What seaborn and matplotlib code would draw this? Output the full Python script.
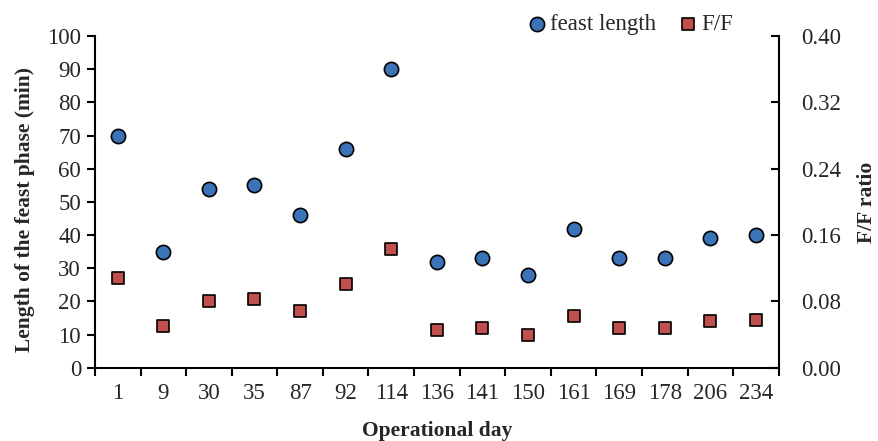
import numpy as np
import pandas as pd
import matplotlib
matplotlib.use('Agg')
import matplotlib.pyplot as plt
from matplotlib.ticker import FixedLocator, NullFormatter
import seaborn as sns

# data
days = ['1', '9', '30', '35', '87', '92', '114', '136', '141', '150',
        '161', '169', '178', '206', '234']
feast_length = [70, 35, 54, 55, 46, 66, 90, 32, 33, 28, 42, 33, 33, 39, 40]
ff_ratio = [0.108, 0.051, 0.081, 0.083, 0.068, 0.101, 0.143, 0.046, 0.0475,
            0.040, 0.062, 0.0475, 0.0475, 0.057, 0.058]

df = pd.DataFrame({'day': days, 'feast': feast_length, 'ff': ff_ratio})

sns.set_style('white')
plt.rcParams['font.family'] = ['Liberation Serif', 'DejaVu Serif']

blue = '#3A73B8'
red = '#C0504D'
tick_fs = 16.5
label_fs = 15.5

fig = plt.figure(figsize=(8.79, 4.41), dpi=100)
ax = fig.add_axes([0.108, 0.166, 0.778, 0.752])
ax2 = ax.twinx()

sns.scatterplot(data=df, x='day', y='feast', ax=ax, marker='o', s=105,
                color=blue, edgecolor='black', linewidth=1.2,
                label='feast length', legend=False, zorder=3)
sns.scatterplot(data=df, x='day', y='ff', ax=ax2, marker='s', s=85,
                color=red, edgecolor='black', linewidth=1.2,
                label='F/F', legend=False, zorder=3)

ax.set_xlim(-0.5, len(days) - 0.5)
ax.set_ylim(0, 100)
ax.set_yticks(np.arange(0, 101, 10))
ax2.set_ylim(0, 0.40)
ax2.set_yticks([0.0, 0.08, 0.16, 0.24, 0.32, 0.40])
ax2.set_yticklabels(['%.2f' % v for v in ax2.get_yticks()])

# tick marks between categories, like the original
ax.xaxis.set_minor_locator(FixedLocator(np.arange(-0.5, len(days), 1.0)))
ax.xaxis.set_minor_formatter(NullFormatter())
ax.tick_params(axis='x', which='major', length=0, labelsize=tick_fs, pad=11)
ax.tick_params(axis='x', which='minor', length=6, width=1.5, direction='out',
               color='black', bottom=True)
ax.tick_params(axis='y', length=6, width=1.5, direction='out', color='black',
               labelsize=tick_fs, left=True, pad=4)
ax2.tick_params(axis='y', length=6, width=1.5, direction='in', color='black',
                labelsize=tick_fs, right=True, pad=16)

for a in (ax, ax2):
    a.spines['top'].set_visible(False)
    for side in ('left', 'right', 'bottom'):
        a.spines[side].set_color('black')
        a.spines[side].set_linewidth(1.5)
ax.spines['right'].set_visible(False)
ax2.spines['left'].set_visible(False)
ax2.spines['bottom'].set_visible(False)

ax.set_xlabel('Operational day', fontsize=label_fs, fontweight='bold',
              labelpad=12)
ax.set_ylabel('Length of the feast phase (min)', fontsize=label_fs,
              fontweight='bold')
ax2.set_ylabel('F/F ratio', fontsize=label_fs, fontweight='bold')
ax.yaxis.set_label_coords(-0.088, 0.476)
ax2.yaxis.set_label_coords(1.114, 0.50)

h1, l1 = ax.get_legend_handles_labels()
h2, l2 = ax2.get_legend_handles_labels()
fig.legend(h1 + h2, l1 + l2, loc='center', bbox_to_anchor=(0.716, 0.945),
           ncol=2, frameon=False, fontsize=tick_fs, handletextpad=0.05,
           columnspacing=0.9, handlelength=1.0, markerscale=1.0)

fig.savefig('out.png', dpi=100)
